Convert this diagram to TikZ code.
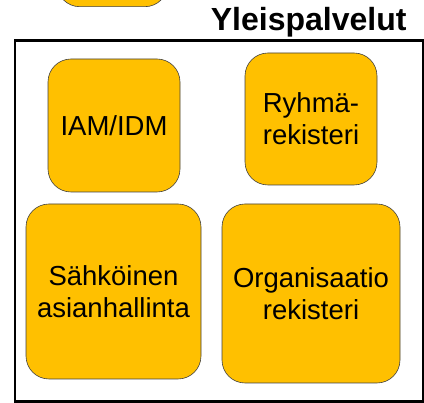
\documentclass[tikz,border=0pt]{standalone}
\usepackage{fontspec}
\setmainfont{Liberation Sans}
\begin{document}
\begin{tikzpicture}[x=1pt,y=-1pt,
        block/.style={align=center,rectangle,rounded corners=23pt,draw=black!75,line width=.6pt,fill=gold,inner sep=0pt,font=\fontsize{27.5}{32}\selectfont},
        frame/.style={rectangle,draw=black,line width=2.6pt,inner sep=0pt}]
        \definecolor{gold}{HTML}{FFC000}
        \useasboundingbox (0,0) rectangle (424,403);
        \node [block,minimum width=111pt,minimum height=60pt] (top) at (112.3,-23.3) {};
        \node [font=\bfseries\fontsize{32}{37}\selectfont,anchor=base east] (title) at (410,31) {Yleispalvelut};
        \node [frame,minimum width=408pt,minimum height=361pt] (yp) at (219,221) {};
        \node [block,minimum width=132pt,minimum height=133pt] (iam) at (114,125.5) {IAM/IDM};
        \node [block,minimum width=132pt,minimum height=132pt] (ryhma) at (311,119) {Ryhmä-\\rekisteri};
        \node [block,minimum width=175pt,minimum height=175pt] (asia) at (113.5,291.5) {Sähköinen\\asianhallinta};
        \node [block,minimum width=178pt,minimum height=179pt] (org) at (311,293.5) {Organisaatio\\rekisteri};
    \end{tikzpicture}
\end{document}
